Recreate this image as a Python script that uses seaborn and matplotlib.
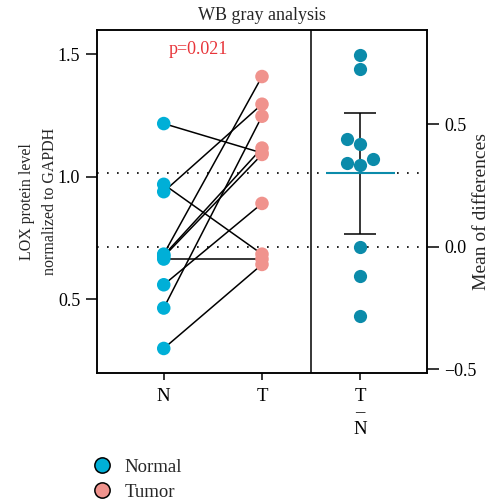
import matplotlib
matplotlib.use("Agg")
import matplotlib.pyplot as plt
from matplotlib.lines import Line2D
import seaborn as sns
import numpy as np
import pandas as pd

# paired gray values (same order = same sample)
normal = [1.218, 0.94, 0.97, 0.685, 0.68, 0.675, 0.665, 0.56, 0.465, 0.30]
tumor = [1.098, 1.297, 0.685, 1.41, 1.118, 1.092, 0.665, 0.892, 1.248, 0.643]
groups = ["N", "T"]
tick_labels = ["N", "T", "T\n–\nN"]
legend_labels = ["Normal", "Tumor"]
p_text = "p=0.021"
t_crit = 2.262  # t(0.975, df=9)

c_normal = "#00AFD7"
c_tumor = "#F0938D"
c_diff = "#0B8BAA"

sns.set_style("ticks")
plt.rcParams["font.family"] = ["Liberation Serif", "DejaVu Serif"]
plt.rcParams["font.size"] = 13
plt.rcParams["axes.edgecolor"] = "black"
plt.rcParams["axes.linewidth"] = 1.1
plt.rcParams["xtick.color"] = "black"
plt.rcParams["ytick.color"] = "black"

normal = np.array(normal)
tumor = np.array(tumor)
diff = tumor - normal
n = len(diff)
mean_n = normal.mean()
mean_t = tumor.mean()
mean_d = diff.mean()
ci = t_crit * diff.std(ddof=1) / np.sqrt(n)

df = pd.DataFrame({
    "pair": np.tile(np.arange(n), 2),
    "group": np.repeat(groups, n),
    "pos": np.repeat([0, 1], n),
    "value": np.concatenate([normal, tumor]),
})

fig = plt.figure(figsize=(4.92, 5.04), dpi=100)
ax = fig.add_axes([0.197, 0.26, 0.671, 0.6805])
ax2 = ax.twinx()

# paired lines + points
sns.lineplot(data=df, x="pos", y="value", units="pair", estimator=None,
             color="black", lw=1.1, ax=ax, zorder=2)
sns.scatterplot(data=df, x="pos", y="value", hue="group",
                palette=[c_normal, c_tumor], s=95, edgecolor="none",
                legend=False, ax=ax, zorder=3)

# differences panel
ax2.errorbar(2, mean_d, yerr=ci, color="black", lw=1.1, capsize=11.5,
             capthick=1.1, zorder=2)
ax2.hlines(mean_d, 2 - 0.35, 2 + 0.35, color=c_diff, lw=1.5, zorder=2)
sns.swarmplot(x=np.full(n, 2.0), y=diff, native_scale=True, color=c_diff,
              size=9.5, ax=ax2, zorder=3)

ax.axvline(1.5, color="black", lw=1.1)
ax.axhline(mean_n, color="black", lw=1.2, ls=(0, (1, 5)))
ax.axhline(mean_t, color="black", lw=1.2, ls=(0, (1, 5)))

lo, hi = 0.2, 1.6
ax.set_ylim(lo, hi)
ax2.set_ylim(lo - mean_n, hi - mean_n)
ax.set_xlim(-0.68, 2.68)

ax.set_xticks([0, 1, 2])
ax.set_xticklabels(tick_labels, linespacing=0.95, fontsize=13.5)
ax.set_xlabel("")
ax.tick_params(axis="x", length=5, width=1.1, pad=6)
ax.set_yticks([0.5, 1.0, 1.5])
ax.set_yticklabels(["0.5", "1.0", "1.5"])
ax.tick_params(axis="y", length=8, width=1.1, pad=4)
ax.set_ylabel("LOX protein level\nnormalized to GAPDH", fontsize=11.5,
              linespacing=1.6, labelpad=0)

ax2.set_yticks([-0.5, 0.0, 0.5])
ax2.set_yticklabels(["\u22120.5", "0.0", "0.5"])
ax2.tick_params(axis="y", length=8.5, width=1.1, pad=4)
ax2.set_ylabel("Mean of differences", fontsize=14)
ax2.yaxis.set_label_coords(1.138, 0.47)

ax.set_title("WB gray analysis", fontsize=13, pad=7)
ax.text(0.35, 1.52, p_text, color="#E8353A", ha="center", va="center",
        fontsize=13)

handles = [Line2D([], [], marker="o", ls="", markersize=11,
                  markerfacecolor=c, markeredgecolor="black", markeredgewidth=1.1)
           for c in [c_normal, c_tumor]]
fig.legend(handles, legend_labels, loc="lower left", bbox_to_anchor=(0.170, -0.008),
           frameon=False, fontsize=13.5, handlelength=1.2, handletextpad=0.58,
           labelspacing=0.42, borderaxespad=0)

fig.savefig("out.png", dpi=100)
